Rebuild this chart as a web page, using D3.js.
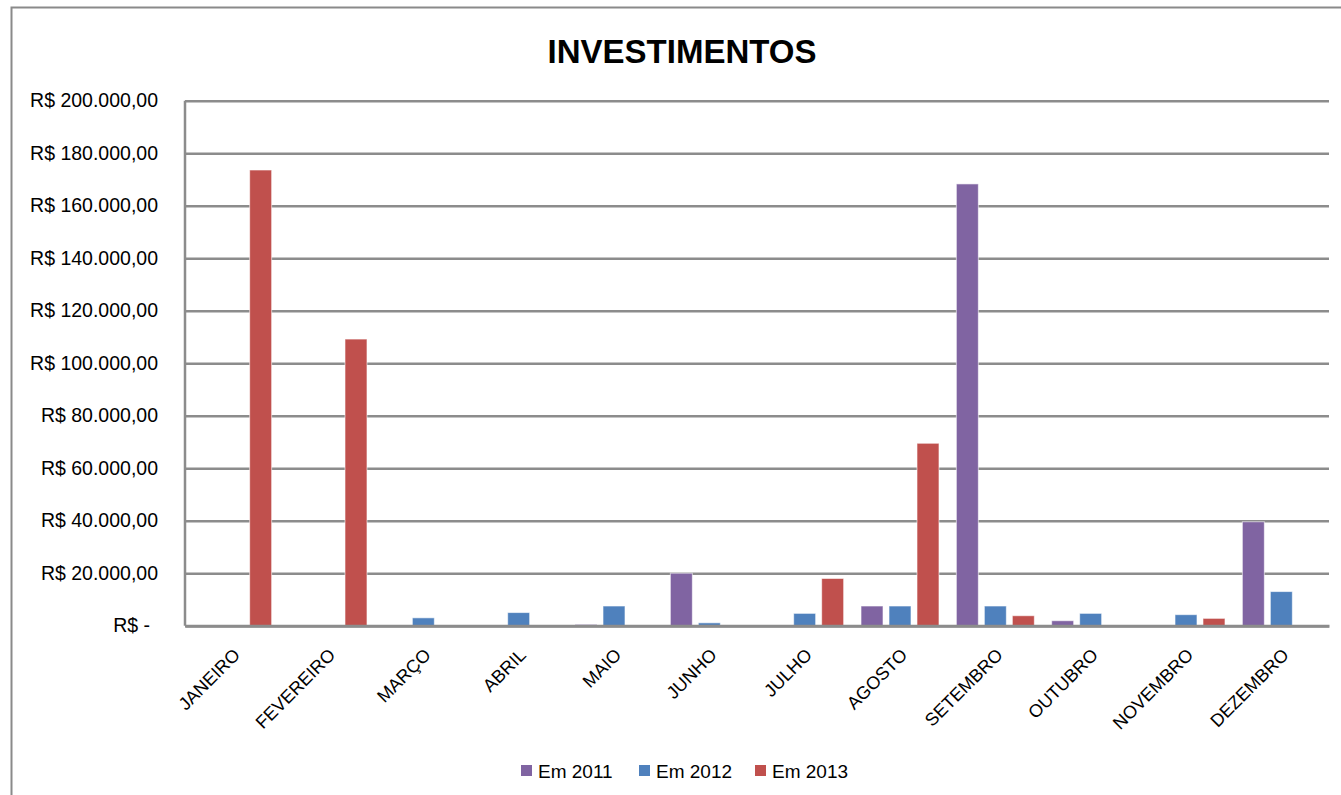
<!DOCTYPE html>
<html><head><meta charset="utf-8">
<script src="https://cdn.jsdelivr.net/npm/d3@7"></script>
<style>body{margin:0;background:#fff}svg{display:block}</style>
</head><body>
<svg id="c" width="1341" height="795"></svg>
<script>
const categories = ["JANEIRO","FEVEREIRO","MARÇO","ABRIL","MAIO","JUNHO","JULHO","AGOSTO","SETEMBRO","OUTUBRO","NOVEMBRO","DEZEMBRO"];
const seriesNames = ["Em 2011","Em 2012","Em 2013"];
const em2011 = [0, 0, 0, 0, 500, 20000, 0, 7500, 168300, 1900, 0, 39600];
const em2012 = [0, 0, 3000, 5000, 7500, 1100, 4700, 7500, 7500, 4700, 4200, 13000];
const em2013 = [173600, 109200, 0, 0, 0, 0, 18000, 69500, 3800, 0, 2800, 0];
const yTicks = [0, 20000, 40000, 60000, 80000, 100000, 120000, 140000, 160000, 180000, 200000];
const colors = ["#8064A2","#4F81BD","#C0504D"];

const svg = d3.select("#c");
const font = "'Liberation Sans', Arial, sans-serif";
const M = {left:185, right:1329, top:100.7, bottom:625.7};

svg.append("rect").attr("x",11.5).attr("y",7.5).attr("width",1340).attr("height",800)
  .attr("fill","#fff").attr("stroke","#8a8a8a").attr("stroke-width",2);

svg.append("text").attr("x",682).attr("y",63).attr("text-anchor","middle")
  .attr("font-family",font).attr("font-weight","bold").attr("font-size",33)
  .text("INVESTIMENTOS");

const x0 = d3.scaleBand().domain(categories).range([M.left, M.right]).padding(0);
const x1 = d3.scaleBand().domain(seriesNames).range([0, x0.bandwidth()]).paddingInner(0.2143).paddingOuter(0.31);
const y = d3.scaleLinear().domain([0,200000]).range([M.bottom, M.top]);

function fmt(v){
  if (v===0) return "R$ -";
  const s = d3.format(",.2f")(v).replace(/,/g,"#").replace(".",",").replace(/#/g,".");
  return "R$ " + s;
}

const yAxis = d3.axisLeft(y).tickValues(yTicks).tickSize(-(M.right-M.left)).tickFormat(fmt).tickPadding(27);
const ga = svg.append("g").attr("transform",`translate(${M.left},0)`).call(yAxis);
ga.select(".domain").remove();
ga.selectAll(".tick line").attr("stroke","#8c8c8c").attr("stroke-width",2.5);
ga.selectAll(".tick text").attr("font-family",font).attr("font-size",19.5).attr("fill","#000")
  .attr("dx", d => d===0 ? -8 : 0);

svg.append("line").attr("x1",M.left).attr("x2",M.left).attr("y1",M.top).attr("y2",M.bottom)
  .attr("stroke","#8c8c8c").attr("stroke-width",2.5);

const data = categories.map((c,i)=>({cat:c, vals:[em2011[i],em2012[i],em2013[i]]}));
const g = svg.append("g");
data.forEach(d=>{
  d.vals.forEach((v,j)=>{
    if (v<=0) return;
    g.append("rect")
      .attr("x", x0(d.cat)+x1(seriesNames[j]))
      .attr("y", y(v))
      .attr("width", x1.bandwidth())
      .attr("height", y(0)-y(v))
      .attr("fill", colors[j])
      .attr("stroke", "rgba(255,255,255,0.6)").attr("stroke-width",1);
  });
});

const xAxis = d3.axisBottom(x0).tickSize(0).tickPadding(0);
const gx = svg.append("g").attr("transform",`translate(0,${M.bottom})`).call(xAxis);
gx.select(".domain").attr("stroke","#8c8c8c").attr("stroke-width",3);
gx.selectAll(".tick text").attr("font-family",font).attr("font-size",18).attr("fill","#000")
  .attr("text-anchor","end")
  .attr("transform","translate(4,26) rotate(-45)")
  .attr("dy","0.35em");

const legX = [521, 639, 755];
const lg = svg.append("g");
seriesNames.forEach((s,j)=>{
  lg.append("rect").attr("x",legX[j]).attr("y",765).attr("width",11).attr("height",11).attr("fill",colors[j]);
  lg.append("text").attr("x",legX[j]+17).attr("y",777.5).attr("font-family",font).attr("font-size",19).text(s);
});
</script>
</body></html>
